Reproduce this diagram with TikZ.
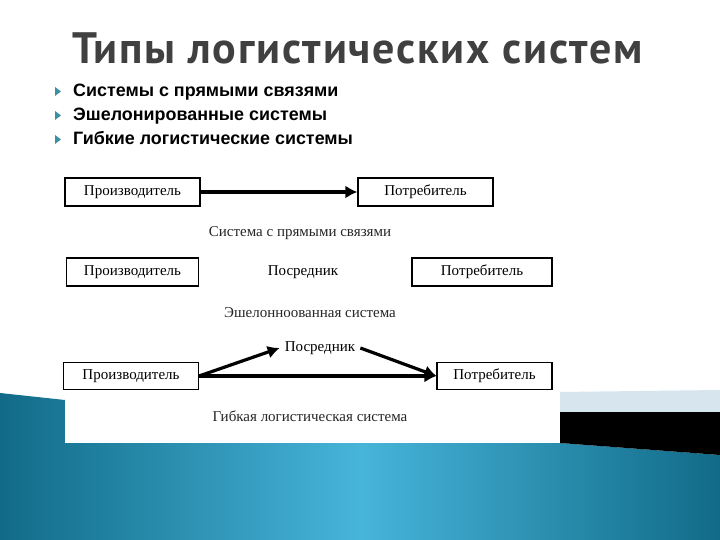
\documentclass[tikz,border=0pt]{standalone}
\usepackage{fontspec}
\setmainfont{Liberation Serif}
\newfontfamily\titlefont[LetterSpace=4]{PT Sans}
\newfontfamily\listfont{Liberation Sans}
\usepackage{xcolor}
\usetikzlibrary{arrows.meta, positioning, calc}
\definecolor{tealdark}{HTML}{116B88}
\definecolor{teallight}{HTML}{47B4DA}
\definecolor{bandblue}{HTML}{D7E5EF}
\definecolor{titlegray}{HTML}{404040}
\definecolor{bullteal}{HTML}{3A8EA6}
\tikzset{
  unitbox/.style={rectangle, draw, line width=1.2pt, minimum width=135pt,
                  minimum height=28pt, inner sep=0pt, font=\fontsize{15}{17}\selectfont},
  midtext/.style={inner sep=5pt, font=\fontsize{15}{17}\selectfont},
  caption/.style={inner sep=0pt, font=\fontsize{15}{17}\selectfont, text=black!85},
  listitem/.style={anchor=base west, inner sep=0pt, font=\listfont\bfseries\fontsize{17.9}{20}\selectfont},
  arrow/.style={-{Latex[length=12pt, width=13pt]}, line width=3.2pt},
}

\begin{document}
\begin{tikzpicture}[x=1pt, y=1pt]
  \useasboundingbox (0,0) rectangle (720,540);
  \fill[white] (0,0) rectangle (720,540);

  % --- slide background ---
  \shade[left color=tealdark, right color=tealdark, middle color=teallight]
    (0,147) -- (65,140) -- (65,97) -- (560,97) -- (720,85) -- (720,0) -- (0,0) -- cycle;
  \fill[black] (560,128) -- (720,128) -- (720,85) -- (560,97) -- cycle;
  \fill[bandblue] (560,148) -- (720,150) -- (720,128) -- (560,128) -- cycle;
  \fill[white] (65,97) rectangle (560,375);

  % --- title and list ---
  \node[anchor=base west, inner sep=0pt, text=titlegray,
        font=\titlefont\bfseries\fontsize{44}{50}\selectfont] (title) at (72,476) {Типы логистических систем};
  \node[listitem] (li1) at (73,443) {Системы с прямыми связями};
  \node[listitem] (li2) at (73,419) {Эшелонированные системы};
  \node[listitem] (li3) at (73,395) {Гибкие логистические системы};
  \fill[bullteal] ($(li1.base west)+(-18,10)$) -- ++(6,-4.5) -- ++(-6,-4.5) -- cycle;
  \fill[bullteal] ($(li2.base west)+(-18,10)$) -- ++(6,-4.5) -- ++(-6,-4.5) -- cycle;
  \fill[bullteal] ($(li3.base west)+(-18,10)$) -- ++(6,-4.5) -- ++(-6,-4.5) -- cycle;

  % --- direct links ---
  \node[unitbox] (prod1) at (132.5,348) {Производитель};
  \node[unitbox] (cons1) at (425.5,348) {Потребитель};
  \node[caption] (cap1) at (300,307) {Система с прямыми связями};
  \draw[arrow] (prod1.east) -- (cons1.west);

  % --- echelon ---
  \node[unitbox, minimum width=132pt] (prod2) at (132.5,268) {Производитель};
  \node[midtext] (mid2) at (303,268) {Посредник};
  \node[unitbox, minimum width=140pt] (cons2) at (482,268) {Потребитель};
  \node[caption] (cap2) at (310,227) {Эшелонноованная система};

  % --- flexible ---
  \node[unitbox, minimum height=27pt] (prod3) at (131,164) {Производитель};
  \node[unitbox, minimum width=115pt, minimum height=27pt] (cons3) at (494.5,164) {Потребитель};
  \node[midtext] (mid3) at (320,192) {Посредник};
  \node[caption] (cap3) at (310,124) {Гибкая логистическая система};
  \draw[arrow] (prod3.east) -- (mid3.west);
  \draw[arrow] (mid3.east) -- (cons3.west);
  \draw[arrow] (prod3.east) -- (cons3.west);
\end{tikzpicture}
\end{document}
